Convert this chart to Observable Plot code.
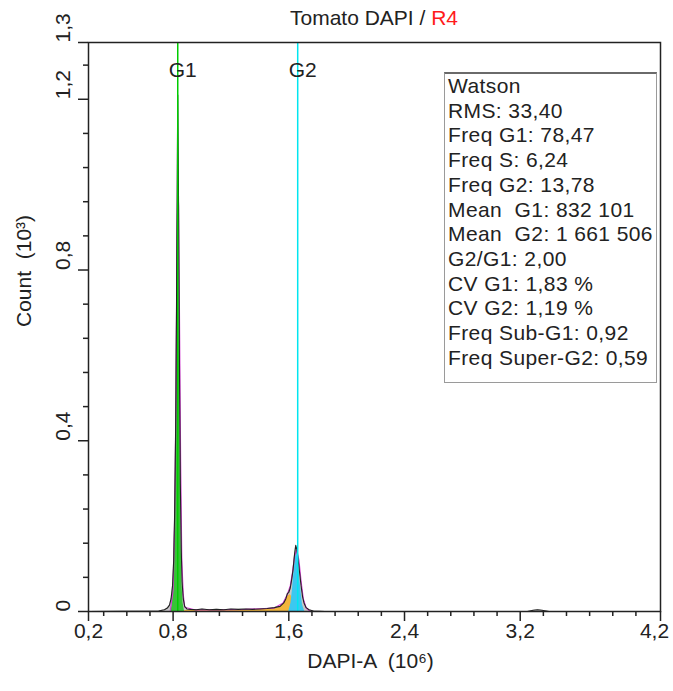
<!DOCTYPE html>
<html><head><meta charset="utf-8">
<script src="https://cdn.jsdelivr.net/npm/d3@7"></script>
<script src="https://cdn.jsdelivr.net/npm/@observablehq/plot@0.6"></script>
<style>
body{margin:0;background:#fff;font-family:"Liberation Sans",Arial,sans-serif;}
#wrap{position:relative;width:673px;height:691px;overflow:hidden;}
#title{height:30px;box-sizing:border-box;padding-left:88px;padding-right:13px;text-align:center;font-size:21px;line-height:36px;color:#222;white-space:pre;}
#stats{position:absolute;left:444px;top:72px;width:213px;height:311px;box-sizing:border-box;border:1px solid #9a9a9a;border-top:2px solid #6a6a6a;background:#fff;font-size:21px;letter-spacing:0.4px;line-height:24.7px;padding-left:3px;color:#222;white-space:pre;}
svg{display:block;}
</style></head><body>
<div id="wrap"><div id="title">Tomato DAPI / <span style="color:#ff1a1a">R4</span></div><div id="chart"></div><div id="stats"></div></div>
<script>
// ---- data (DAPI-A in 10^6, Count in 10^3) ----
const dapi   = [0.215,0.70,0.74,0.76,0.775,0.786,0.796,0.804,0.810,0.815,0.820,0.824,0.828,0.832,0.836,0.840,0.845,0.850,0.856,0.862,0.870,0.880,0.895,0.92,0.96,1.00,1.05,1.10,1.15,1.20,1.25,1.30,1.35,1.40,1.45,1.50,1.54,1.565,1.58,1.59,1.60,1.61,1.62,1.63,1.64,1.648,1.656,1.665,1.675,1.685,1.695,1.705,1.72,1.74,1.77,1.85,2.5,3.25,3.29,3.32,3.35,3.40,4.17];
const counts = [0,0.001,0.004,0.008,0.015,0.03,0.06,0.12,0.22,0.34,0.52,0.74,0.98,1.21,1.05,0.80,0.52,0.30,0.15,0.07,0.03,0.012,0.006,0.005,0.004,0.006,0.004,0.005,0.004,0.006,0.005,0.006,0.005,0.006,0.007,0.009,0.012,0.02,0.03,0.042,0.045,0.055,0.075,0.10,0.135,0.155,0.145,0.12,0.09,0.06,0.035,0.02,0.009,0.004,0.001,0,0,0,0.003,0.004,0.003,0,0];

const g1X = [0.785,0.795,0.802,0.808,0.814,0.820,0.826,0.832,0.838,0.844,0.850,0.856,0.862,0.869,0.879];
const g1Y = [0,0.02,0.06,0.15,0.30,0.52,0.80,1.00,0.85,0.58,0.34,0.16,0.06,0.02,0];

const g2X = [1.60,1.615,1.625,1.635,1.645,1.655,1.665,1.675,1.685,1.695,1.71];
const g2Y = [0,0.02,0.05,0.09,0.125,0.14,0.12,0.08,0.045,0.015,0];

const sX = [0.84,0.90,1.10,1.30,1.45,1.53,1.57,1.59,1.61,1.63,1.65,1.67];
const sY = [0,0.003,0.003,0.004,0.005,0.008,0.02,0.035,0.04,0.03,0.01,0];

const fitX = [0.78,0.80,0.81,0.82,0.826,0.832,0.838,0.845,0.852,0.86,0.87,0.88,0.95,1.10,1.30,1.50,1.56,1.59,1.61,1.625,1.64,1.655,1.67,1.685,1.70,1.72,1.75];
const fitY = [0,0.05,0.2,0.5,0.8,1.0,0.95,0.65,0.35,0.12,0.04,0.01,0.004,0.004,0.005,0.008,0.02,0.04,0.06,0.09,0.13,0.145,0.12,0.07,0.03,0.008,0];

const markerNames  = ["G1","G2"];
const markerValues = [0.832101,1.661506];
const markerColors = ["#00cc00","#00e6f0"];

const xTickValues = [0.215,0.8,1.6,2.4,3.2,4.17];
const xTickLabels = ["0,2","0,8","1,6","2,4","3,2","4,2"];
const xMinor = [0.32,0.48,0.64,0.96,1.12,1.28,1.44,1.76,1.92,2.08,2.24,2.56,2.72,2.88,3.04,3.36,3.52,3.68,3.84,4.0];
const yTickValues = [0,0.4,0.8,1.2,1.333];
const yTickLabels = ["0","0,4","0,8","1,2","1,3"];
const yMinor = [0.08,0.16,0.24,0.32,0.48,0.56,0.64,0.72,0.88,0.96,1.04,1.12,1.28];

const xLabel = "DAPI-A  (10⁶)";
const yLabel = "Count  (10³)";

const statLines = ["Watson","RMS: 33,40","Freq G1: 78,47","Freq S: 6,24","Freq G2: 13,78","Mean  G1: 832 101","Mean  G2: 1 661 506","G2/G1: 2,00","CV G1: 1,83 %","CV G2: 1,19 %","Freq Sub-G1: 0,92","Freq Super-G2: 0,59"];

// ---- build tables ----
const zip = (xs, ys) => xs.map((x, i) => ({x, y: ys[i]}));
const hist = zip(dapi, counts);
const g1 = zip(g1X, g1Y);
const g2 = zip(g2X, g2Y);
const sPhase = zip(sX, sY);
const fit = zip(fitX, fitY);
const markers = markerNames.map((name, i) => ({name, x: markerValues[i], color: markerColors[i]}));
const xTicks = xTickValues.map((v, i) => ({v, label: xTickLabels[i]}));
const xTicksInner = xTicks.slice(0, -1);
const xTickLast = xTicks.slice(-1);
const yTicks = yTickValues.map((v, i) => ({v, label: yTickLabels[i]}));

const ink = "#222";
const chart = Plot.plot({
  width: 673, height: 661,
  marginTop: 12, marginBottom: 80, marginLeft: 88, marginRight: 13,
  x: {domain: [0.215, 4.17]},
  y: {domain: [0, 1.333]},
  style: {fontFamily: "'Liberation Sans', Arial, sans-serif", fontSize: "21px", color: ink, background: "#fff", overflow: "visible"},
  marks: [
    Plot.areaY(hist, {x: "x", y: "y", fill: "#9a9a9a", fillOpacity: 0.55, curve: "linear"}),
    Plot.areaY(sPhase, {x: "x", y: "y", fill: "#f2b63c"}),
    Plot.areaY(g1, {x: "x", y: "y", fill: "#38c238"}),
    Plot.areaY(g2, {x: "x", y: "y", fill: "#3cc8f0"}),
    Plot.line(fit, {x: "x", y: "y", stroke: "#d43fd4", strokeWidth: 1.2}),
    Plot.line(hist, {x: "x", y: "y", stroke: "#222", strokeWidth: 1.1}),
    Plot.ruleX(markers, {x: "x", stroke: "color", strokeWidth: 1.5}),
    Plot.text(markers, {x: "x", text: "name", frameAnchor: "top", dy: 20, dx: 5, fontSize: 21, fill: ink}),
    Plot.axisX({ticks: xMinor, tickSize: 5, tickFormat: () => "", label: null, stroke: ink, strokeWidth: 1.5}),
    Plot.axisX({ticks: xTickValues, tickSize: 10, tickFormat: () => "", label: null, stroke: ink, strokeWidth: 1.5}),
    Plot.axisY({ticks: yMinor, tickSize: 5, tickFormat: () => "", label: null, stroke: ink, strokeWidth: 1.5}),
    Plot.axisY({ticks: yTickValues, tickSize: 10, tickFormat: () => "", label: null, stroke: ink, strokeWidth: 1.5}),
    Plot.text(xTicksInner, {x: "v", text: "label", frameAnchor: "bottom", dy: 26, fill: ink}),
    Plot.text(xTickLast, {x: "v", text: "label", frameAnchor: "bottom", dy: 26, dx: -6, fill: ink}),
    Plot.text(yTicks, {y: "v", text: "label", frameAnchor: "left", dx: -25, rotate: -90, fill: ink}),
    Plot.text([xLabel], {text: d => d, frameAnchor: "bottom", dy: 56, dx: -4, fill: ink}),
    Plot.text([yLabel], {text: d => d, frameAnchor: "left", dx: -64, rotate: -90, fill: ink}),
    Plot.frame({stroke: ink, strokeWidth: 1.5})
  ]
});
document.getElementById("chart").appendChild(chart);
document.getElementById("stats").textContent = statLines.join("\n");
</script>
</body></html>
